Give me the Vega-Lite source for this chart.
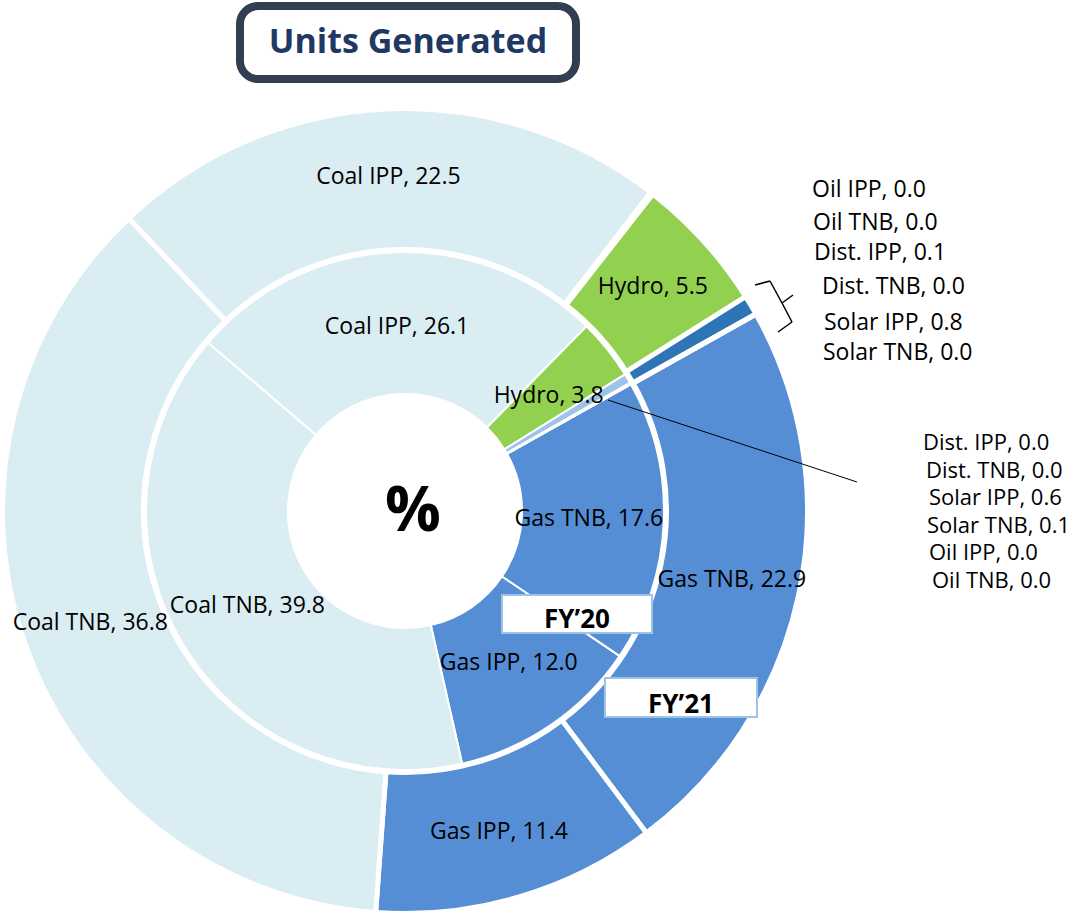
{
  "$schema": "https://vega.github.io/schema/vega-lite/v6.json",
  "width": 810,
  "height": 806,
  "autosize": {"type": "none"},
  "padding": {"left": 0, "top": 108, "right": 266, "bottom": 0},
  "background": "white",
  "config": {"view": {"stroke": null}, "font": "Open Sans", "text": {"font": "Open Sans"}},
  "datasets": {
    "gen": [
      {"year": "FY21", "source": "Gas TNB", "value": 22.9, "rank": 1},
      {"year": "FY21", "source": "Gas IPP", "value": 11.4, "rank": 2},
      {"year": "FY21", "source": "Coal TNB", "value": 36.8, "rank": 3},
      {"year": "FY21", "source": "Coal IPP", "value": 22.5, "rank": 4},
      {"year": "FY21", "source": "Dist. IPP", "value": 0.1, "rank": 5},
      {"year": "FY21", "source": "Oil IPP", "value": 0.0, "rank": 6},
      {"year": "FY21", "source": "Oil TNB", "value": 0.0, "rank": 7},
      {"year": "FY21", "source": "Dist. TNB", "value": 0.0, "rank": 8},
      {"year": "FY21", "source": "Hydro", "value": 5.5, "rank": 9},
      {"year": "FY21", "source": "Solar IPP", "value": 0.8, "rank": 10},
      {"year": "FY21", "source": "Solar TNB", "value": 0.0, "rank": 11},
      {"year": "FY20", "source": "Gas TNB", "value": 17.6, "rank": 1},
      {"year": "FY20", "source": "Gas IPP", "value": 12.0, "rank": 2},
      {"year": "FY20", "source": "Coal TNB", "value": 39.8, "rank": 3},
      {"year": "FY20", "source": "Coal IPP", "value": 26.1, "rank": 4},
      {"year": "FY20", "source": "Hydro", "value": 3.8, "rank": 5},
      {"year": "FY20", "source": "Solar IPP", "value": 0.6, "rank": 6},
      {"year": "FY20", "source": "Solar TNB", "value": 0.1, "rank": 7},
      {"year": "FY20", "source": "Dist. IPP", "value": 0.0, "rank": 8},
      {"year": "FY20", "source": "Dist. TNB", "value": 0.0, "rank": 9},
      {"year": "FY20", "source": "Oil IPP", "value": 0.0, "rank": 10},
      {"year": "FY20", "source": "Oil TNB", "value": 0.0, "rank": 11}
    ]
  },
  "resolve": {"scale": {"color": "independent"}},
  "layer": [
    {
      "data": {"name": "gen"},
      "transform": [{"filter": "datum.year == 'FY21'"}],
      "mark": {"type": "arc", "innerRadius": 261.5, "outerRadius": 402.5, "stroke": "white", "strokeWidth": 5},
      "encoding": {
        "theta": {"field": "value", "type": "quantitative", "stack": true, "scale": {"range": [1.0594, 7.3426]}},
        "order": {"field": "rank", "type": "quantitative"},
        "color": {"field": "source", "type": "nominal", "legend": null,
          "scale": {"domain": ["Coal IPP","Coal TNB","Gas IPP","Gas TNB","Hydro","Oil IPP","Oil TNB","Dist. IPP","Dist. TNB","Solar IPP","Solar TNB"],
                    "range": ["#DAEDF3","#DAEDF3","#558ED5","#558ED5","#92D050","#2E75B6","#2E75B6","#4F81BD","#2E75B6","#2E75B6","#2E75B6"]}}
      }
    },
    {
      "data": {"name": "gen"},
      "transform": [{"filter": "datum.year == 'FY20'"}],
      "mark": {"type": "arc", "innerRadius": 117, "outerRadius": 259, "stroke": "white", "strokeWidth": 2},
      "encoding": {
        "theta": {"field": "value", "type": "quantitative", "stack": true, "scale": {"range": [1.0594, 7.3426]}},
        "order": {"field": "rank", "type": "quantitative"},
        "color": {"field": "source", "type": "nominal", "legend": null,
          "scale": {"domain": ["Coal IPP","Coal TNB","Gas IPP","Gas TNB","Hydro","Oil IPP","Oil TNB","Dist. IPP","Dist. TNB","Solar IPP","Solar TNB"],
                    "range": ["#DAEDF3","#DAEDF3","#558ED5","#558ED5","#92D050","#9DC3E6","#9DC3E6","#9DC3E6","#9DC3E6","#9DC3E6","#9DC3E6"]}}
      }
    },
    {
      "data": {"name": "gen"},
      "transform": [{"filter": "datum.year == 'FY21'"}, {"calculate": "datum.source + ', ' + format(datum.value, '.1f')", "as": "label"}],
      "mark": {"type": "text", "radius": 334, "font": "Open Sans", "fontSize": 23, "color": "black", "align": "center", "baseline": "middle"},
      "encoding": {
        "theta": {"field": "value", "type": "quantitative", "stack": true, "scale": {"range": [1.0594, 7.3426]}},
        "order": {"field": "rank", "type": "quantitative"},
        "text": {"condition": {"test": "datum.value < 1", "value": ""}, "field": "label", "type": "nominal"}
      }
    },
    {
      "data": {"name": "gen"},
      "transform": [{"filter": "datum.year == 'FY20'"}, {"calculate": "datum.source + ', ' + format(datum.value, '.1f')", "as": "label"}],
      "mark": {"type": "text", "radius": 184, "font": "Open Sans", "fontSize": 23, "color": "black", "align": "center", "baseline": "middle"},
      "encoding": {
        "theta": {"field": "value", "type": "quantitative", "stack": true, "scale": {"range": [1.0594, 7.3426]}},
        "order": {"field": "rank", "type": "quantitative"},
        "text": {"condition": {"test": "datum.value < 1", "value": ""}, "field": "label", "type": "nominal"}
      }
    },
    {
      "data": {"values": [{}]},
      "mark": {"type": "text", "text": "%", "font": "Open Sans", "fontSize": 62, "fontWeight": "bold", "color": "black", "align": "center", "baseline": "middle"},
      "encoding": {
        "x": {"datum": 2, "type": "quantitative", "scale": {"domain": [-101.25, 101.25], "nice": false, "zero": false}, "axis": null},
        "y": {"datum": -0.25, "type": "quantitative", "scale": {"domain": [-100.75, 100.75], "nice": false, "zero": false}, "axis": null}
      }
    },
    {
      "data": {"values": [{}]},
      "mark": {"type": "rect", "fill": "white", "stroke": "#9DC3E6", "strokeWidth": 2},
      "encoding": {
        "x": {"datum": 24.25, "type": "quantitative", "scale": {"domain": [-101.25, 101.25], "nice": false, "zero": false}, "axis": null},
        "x2": {"datum": 61.75},
        "y": {"datum": -21, "type": "quantitative", "scale": {"domain": [-100.75, 100.75], "nice": false, "zero": false}, "axis": null},
        "y2": {"datum": -30.5}
      }
    },
    {
      "data": {"values": [{}]},
      "mark": {"type": "rect", "fill": "white", "stroke": "#9DC3E6", "strokeWidth": 2},
      "encoding": {
        "x": {"datum": 50, "type": "quantitative", "scale": {"domain": [-101.25, 101.25], "nice": false, "zero": false}, "axis": null},
        "x2": {"datum": 88},
        "y": {"datum": -41.75, "type": "quantitative", "scale": {"domain": [-100.75, 100.75], "nice": false, "zero": false}, "axis": null},
        "y2": {"datum": -51.5}
      }
    },
    {
      "data": {"values": [{}]},
      "mark": {"type": "text", "text": "FY’20", "font": "Open Sans", "fontSize": 26, "fontWeight": "bold", "color": "black", "align": "center", "baseline": "middle"},
      "encoding": {
        "x": {"datum": 43, "type": "quantitative", "scale": {"domain": [-101.25, 101.25], "nice": false, "zero": false}, "axis": null},
        "y": {"datum": -27.25, "type": "quantitative", "scale": {"domain": [-100.75, 100.75], "nice": false, "zero": false}, "axis": null}
      }
    },
    {
      "data": {"values": [{}]},
      "mark": {"type": "text", "text": "FY’21", "font": "Open Sans", "fontSize": 26, "fontWeight": "bold", "color": "black", "align": "center", "baseline": "middle"},
      "encoding": {
        "x": {"datum": 69, "type": "quantitative", "scale": {"domain": [-101.25, 101.25], "nice": false, "zero": false}, "axis": null},
        "y": {"datum": -48.5, "type": "quantitative", "scale": {"domain": [-100.75, 100.75], "nice": false, "zero": false}, "axis": null}
      }
    },
    {
      "data": {"values": [{}]},
      "mark": {"type": "rule", "color": "black", "strokeWidth": 1},
      "encoding": {
        "x": {"datum": 50.75, "type": "quantitative", "scale": {"domain": [-101.25, 101.25], "nice": false, "zero": false}, "axis": null},
        "y": {"datum": 27.75, "type": "quantitative", "scale": {"domain": [-100.75, 100.75], "nice": false, "zero": false}, "axis": null},
        "x2": {"datum": 113}, "y2": {"datum": 7.25}
      }
    },
    {
      "data": {"values": [{}]},
      "mark": {"type": "rule", "color": "black", "strokeWidth": 1.5},
      "encoding": {
        "x": {"datum": 87.5, "type": "quantitative", "scale": {"domain": [-101.25, 101.25], "nice": false, "zero": false}, "axis": null},
        "y": {"datum": 56.5, "type": "quantitative", "scale": {"domain": [-100.75, 100.75], "nice": false, "zero": false}, "axis": null},
        "x2": {"datum": 91.25}, "y2": {"datum": 57.5}
      }
    },
    {
      "data": {"values": [{}]},
      "mark": {"type": "rule", "color": "black", "strokeWidth": 1.5},
      "encoding": {
        "x": {"datum": 91.25, "type": "quantitative", "scale": {"domain": [-101.25, 101.25], "nice": false, "zero": false}, "axis": null},
        "y": {"datum": 57.5, "type": "quantitative", "scale": {"domain": [-100.75, 100.75], "nice": false, "zero": false}, "axis": null},
        "x2": {"datum": 94.25}, "y2": {"datum": 52}
      }
    },
    {
      "data": {"values": [{}]},
      "mark": {"type": "rule", "color": "black", "strokeWidth": 1.5},
      "encoding": {
        "x": {"datum": 94.25, "type": "quantitative", "scale": {"domain": [-101.25, 101.25], "nice": false, "zero": false}, "axis": null},
        "y": {"datum": 52, "type": "quantitative", "scale": {"domain": [-100.75, 100.75], "nice": false, "zero": false}, "axis": null},
        "x2": {"datum": 97}, "y2": {"datum": 54}
      }
    },
    {
      "data": {"values": [{}]},
      "mark": {"type": "rule", "color": "black", "strokeWidth": 1.5},
      "encoding": {
        "x": {"datum": 94.25, "type": "quantitative", "scale": {"domain": [-101.25, 101.25], "nice": false, "zero": false}, "axis": null},
        "y": {"datum": 52, "type": "quantitative", "scale": {"domain": [-100.75, 100.75], "nice": false, "zero": false}, "axis": null},
        "x2": {"datum": 96.75}, "y2": {"datum": 47.25}
      }
    },
    {
      "data": {"values": [{}]},
      "mark": {"type": "rule", "color": "black", "strokeWidth": 1.5},
      "encoding": {
        "x": {"datum": 96.75, "type": "quantitative", "scale": {"domain": [-101.25, 101.25], "nice": false, "zero": false}, "axis": null},
        "y": {"datum": 47.25, "type": "quantitative", "scale": {"domain": [-100.75, 100.75], "nice": false, "zero": false}, "axis": null},
        "x2": {"datum": 93.25}, "y2": {"datum": 44.75}
      }
    },
    {
      "data": {"name": "gen"},
      "transform": [{"filter": "datum.year == 'FY21' && datum.source == 'Oil IPP'"}, {"calculate": "datum.source + ', ' + format(datum.value, '.1f')", "as": "label"}],
      "mark": {"type": "text", "align": "left", "baseline": "middle", "font": "Open Sans", "fontSize": 23, "color": "black"},
      "encoding": {
        "x": {"datum": 101.75, "type": "quantitative", "scale": {"domain": [-101.25, 101.25], "nice": false, "zero": false}, "axis": null},
        "y": {"datum": 80.25, "type": "quantitative", "scale": {"domain": [-100.75, 100.75], "nice": false, "zero": false}, "axis": null},
        "text": {"field": "label", "type": "nominal"}
      }
    },
    {
      "data": {"name": "gen"},
      "transform": [{"filter": "datum.year == 'FY21' && datum.source == 'Oil TNB'"}, {"calculate": "datum.source + ', ' + format(datum.value, '.1f')", "as": "label"}],
      "mark": {"type": "text", "align": "left", "baseline": "middle", "font": "Open Sans", "fontSize": 23, "color": "black"},
      "encoding": {
        "x": {"datum": 102, "type": "quantitative", "scale": {"domain": [-101.25, 101.25], "nice": false, "zero": false}, "axis": null},
        "y": {"datum": 72, "type": "quantitative", "scale": {"domain": [-100.75, 100.75], "nice": false, "zero": false}, "axis": null},
        "text": {"field": "label", "type": "nominal"}
      }
    },
    {
      "data": {"name": "gen"},
      "transform": [{"filter": "datum.year == 'FY21' && datum.source == 'Dist. IPP'"}, {"calculate": "datum.source + ', ' + format(datum.value, '.1f')", "as": "label"}],
      "mark": {"type": "text", "align": "left", "baseline": "middle", "font": "Open Sans", "fontSize": 23, "color": "black"},
      "encoding": {
        "x": {"datum": 102.25, "type": "quantitative", "scale": {"domain": [-101.25, 101.25], "nice": false, "zero": false}, "axis": null},
        "y": {"datum": 64.5, "type": "quantitative", "scale": {"domain": [-100.75, 100.75], "nice": false, "zero": false}, "axis": null},
        "text": {"field": "label", "type": "nominal"}
      }
    },
    {
      "data": {"name": "gen"},
      "transform": [{"filter": "datum.year == 'FY21' && datum.source == 'Dist. TNB'"}, {"calculate": "datum.source + ', ' + format(datum.value, '.1f')", "as": "label"}],
      "mark": {"type": "text", "align": "left", "baseline": "middle", "font": "Open Sans", "fontSize": 23, "color": "black"},
      "encoding": {
        "x": {"datum": 104.25, "type": "quantitative", "scale": {"domain": [-101.25, 101.25], "nice": false, "zero": false}, "axis": null},
        "y": {"datum": 56, "type": "quantitative", "scale": {"domain": [-100.75, 100.75], "nice": false, "zero": false}, "axis": null},
        "text": {"field": "label", "type": "nominal"}
      }
    },
    {
      "data": {"name": "gen"},
      "transform": [{"filter": "datum.year == 'FY21' && datum.source == 'Solar IPP'"}, {"calculate": "datum.source + ', ' + format(datum.value, '.1f')", "as": "label"}],
      "mark": {"type": "text", "align": "left", "baseline": "middle", "font": "Open Sans", "fontSize": 23, "color": "black"},
      "encoding": {
        "x": {"datum": 104.75, "type": "quantitative", "scale": {"domain": [-101.25, 101.25], "nice": false, "zero": false}, "axis": null},
        "y": {"datum": 47, "type": "quantitative", "scale": {"domain": [-100.75, 100.75], "nice": false, "zero": false}, "axis": null},
        "text": {"field": "label", "type": "nominal"}
      }
    },
    {
      "data": {"name": "gen"},
      "transform": [{"filter": "datum.year == 'FY21' && datum.source == 'Solar TNB'"}, {"calculate": "datum.source + ', ' + format(datum.value, '.1f')", "as": "label"}],
      "mark": {"type": "text", "align": "left", "baseline": "middle", "font": "Open Sans", "fontSize": 23, "color": "black"},
      "encoding": {
        "x": {"datum": 104.5, "type": "quantitative", "scale": {"domain": [-101.25, 101.25], "nice": false, "zero": false}, "axis": null},
        "y": {"datum": 39.5, "type": "quantitative", "scale": {"domain": [-100.75, 100.75], "nice": false, "zero": false}, "axis": null},
        "text": {"field": "label", "type": "nominal"}
      }
    },
    {
      "data": {"name": "gen"},
      "transform": [{"filter": "datum.year == 'FY20' && datum.source == 'Dist. IPP'"}, {"calculate": "datum.source + ', ' + format(datum.value, '.1f')", "as": "label"}],
      "mark": {"type": "text", "align": "left", "baseline": "middle", "font": "Open Sans", "fontSize": 22, "color": "black"},
      "encoding": {
        "x": {"datum": 129.5, "type": "quantitative", "scale": {"domain": [-101.25, 101.25], "nice": false, "zero": false}, "axis": null},
        "y": {"datum": 17, "type": "quantitative", "scale": {"domain": [-100.75, 100.75], "nice": false, "zero": false}, "axis": null},
        "text": {"field": "label", "type": "nominal"}
      }
    },
    {
      "data": {"name": "gen"},
      "transform": [{"filter": "datum.year == 'FY20' && datum.source == 'Dist. TNB'"}, {"calculate": "datum.source + ', ' + format(datum.value, '.1f')", "as": "label"}],
      "mark": {"type": "text", "align": "left", "baseline": "middle", "font": "Open Sans", "fontSize": 22, "color": "black"},
      "encoding": {
        "x": {"datum": 130.25, "type": "quantitative", "scale": {"domain": [-101.25, 101.25], "nice": false, "zero": false}, "axis": null},
        "y": {"datum": 10.125, "type": "quantitative", "scale": {"domain": [-100.75, 100.75], "nice": false, "zero": false}, "axis": null},
        "text": {"field": "label", "type": "nominal"}
      }
    },
    {
      "data": {"name": "gen"},
      "transform": [{"filter": "datum.year == 'FY20' && datum.source == 'Solar IPP'"}, {"calculate": "datum.source + ', ' + format(datum.value, '.1f')", "as": "label"}],
      "mark": {"type": "text", "align": "left", "baseline": "middle", "font": "Open Sans", "fontSize": 22, "color": "black"},
      "encoding": {
        "x": {"datum": 131, "type": "quantitative", "scale": {"domain": [-101.25, 101.25], "nice": false, "zero": false}, "axis": null},
        "y": {"datum": 3.25, "type": "quantitative", "scale": {"domain": [-100.75, 100.75], "nice": false, "zero": false}, "axis": null},
        "text": {"field": "label", "type": "nominal"}
      }
    },
    {
      "data": {"name": "gen"},
      "transform": [{"filter": "datum.year == 'FY20' && datum.source == 'Solar TNB'"}, {"calculate": "datum.source + ', ' + format(datum.value, '.1f')", "as": "label"}],
      "mark": {"type": "text", "align": "left", "baseline": "middle", "font": "Open Sans", "fontSize": 22, "color": "black"},
      "encoding": {
        "x": {"datum": 130.5, "type": "quantitative", "scale": {"domain": [-101.25, 101.25], "nice": false, "zero": false}, "axis": null},
        "y": {"datum": -3.625, "type": "quantitative", "scale": {"domain": [-100.75, 100.75], "nice": false, "zero": false}, "axis": null},
        "text": {"field": "label", "type": "nominal"}
      }
    },
    {
      "data": {"name": "gen"},
      "transform": [{"filter": "datum.year == 'FY20' && datum.source == 'Oil IPP'"}, {"calculate": "datum.source + ', ' + format(datum.value, '.1f')", "as": "label"}],
      "mark": {"type": "text", "align": "left", "baseline": "middle", "font": "Open Sans", "fontSize": 22, "color": "black"},
      "encoding": {
        "x": {"datum": 131, "type": "quantitative", "scale": {"domain": [-101.25, 101.25], "nice": false, "zero": false}, "axis": null},
        "y": {"datum": -10.5, "type": "quantitative", "scale": {"domain": [-100.75, 100.75], "nice": false, "zero": false}, "axis": null},
        "text": {"field": "label", "type": "nominal"}
      }
    },
    {
      "data": {"name": "gen"},
      "transform": [{"filter": "datum.year == 'FY20' && datum.source == 'Oil TNB'"}, {"calculate": "datum.source + ', ' + format(datum.value, '.1f')", "as": "label"}],
      "mark": {"type": "text", "align": "left", "baseline": "middle", "font": "Open Sans", "fontSize": 22, "color": "black"},
      "encoding": {
        "x": {"datum": 131.75, "type": "quantitative", "scale": {"domain": [-101.25, 101.25], "nice": false, "zero": false}, "axis": null},
        "y": {"datum": -17.375, "type": "quantitative", "scale": {"domain": [-100.75, 100.75], "nice": false, "zero": false}, "axis": null},
        "text": {"field": "label", "type": "nominal"}
      }
    },
    {
      "data": {"values": [{}]},
      "mark": {"type": "rect", "fill": "white", "stroke": "#333F50", "strokeWidth": 8, "cornerRadius": 18},
      "encoding": {
        "x": {"datum": -41.25, "type": "quantitative", "scale": {"domain": [-101.25, 101.25], "nice": false, "zero": false}, "axis": null},
        "x2": {"datum": 42.75},
        "y": {"datum": 126.25, "type": "quantitative", "scale": {"domain": [-100.75, 100.75], "nice": false, "zero": false}, "axis": null},
        "y2": {"datum": 108}
      }
    },
    {
      "data": {"values": [{}]},
      "mark": {"type": "text", "text": "Units Generated", "font": "Open Sans", "fontSize": 34, "fontWeight": "bold", "color": "#1F3864", "align": "center", "baseline": "middle"},
      "encoding": {
        "x": {"datum": 0.75, "type": "quantitative", "scale": {"domain": [-101.25, 101.25], "nice": false, "zero": false}, "axis": null},
        "y": {"datum": 117, "type": "quantitative", "scale": {"domain": [-100.75, 100.75], "nice": false, "zero": false}, "axis": null}
      }
    }
  ]
}
